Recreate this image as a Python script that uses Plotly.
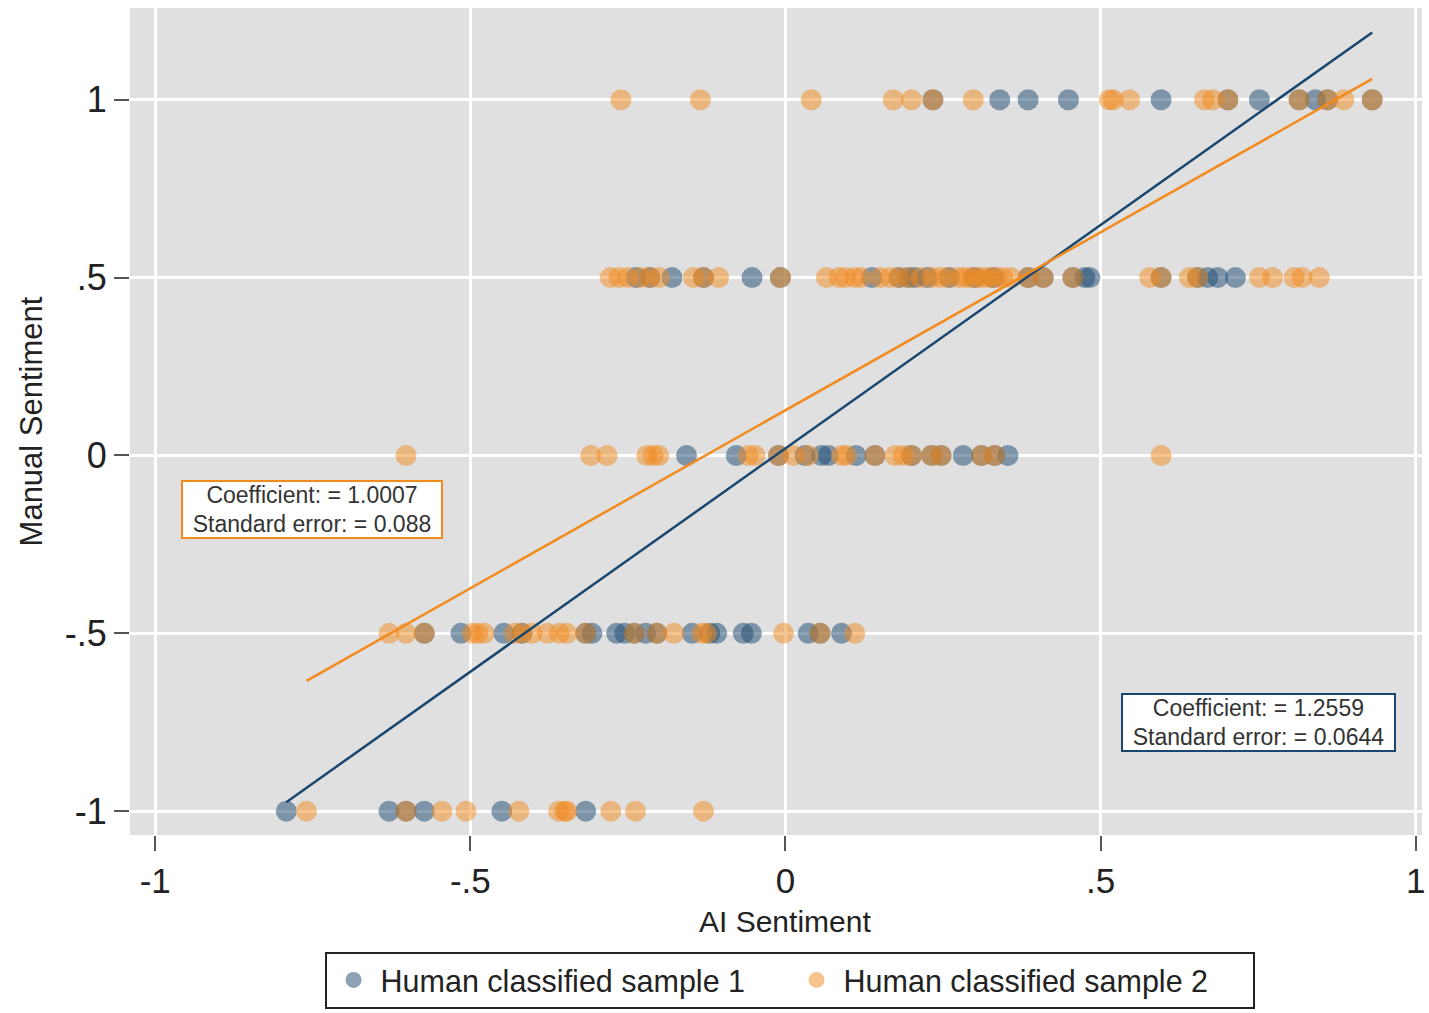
import plotly.graph_objects as go

# AI sentiment scores of the articles, grouped by their manual sentiment level
levels = [1.0, 0.5, 0.0, -0.5, -1.0]

# Human classified sample 1
s1_pos1 = [0.234, 0.340, 0.385, 0.449, 0.596, 0.702, 0.752, 0.815, 0.841, 0.860, 0.931]
s1_pos05 = [-0.237, -0.215, -0.180, -0.130, -0.053, -0.008, 0.137, 0.180, 0.195, 0.205,
            0.225, 0.260, 0.300, 0.330, 0.385, 0.409, 0.456, 0.475, 0.483, 0.596,
            0.654, 0.670, 0.686, 0.714]
s1_zero = [-0.157, -0.078, -0.011, 0.031, 0.057, 0.068, 0.112, 0.142, 0.200, 0.232,
           0.247, 0.282, 0.311, 0.332, 0.353]
s1_neg05 = [-0.573, -0.515, -0.447, -0.418, -0.317, -0.307, -0.268, -0.255, -0.240,
            -0.222, -0.204, -0.148, -0.120, -0.109, -0.067, -0.054, 0.036, 0.055, 0.089]
s1_neg1 = [-0.792, -0.629, -0.602, -0.573, -0.450, -0.317]

# Human classified sample 2
s2_pos1 = [-0.261, -0.135, 0.041, 0.171, 0.200, 0.234, 0.298, 0.514, 0.520, 0.546,
           0.665, 0.678, 0.702, 0.815, 0.860, 0.886, 0.931]
s2_pos05 = [-0.278, -0.264, -0.250, -0.230, -0.215, -0.200, -0.146, -0.130, -0.106,
            -0.008, 0.065, 0.085, 0.095, 0.110, 0.120, 0.150, 0.166, 0.180, 0.195,
            0.215, 0.232, 0.245, 0.258, 0.275, 0.285, 0.295, 0.305, 0.315, 0.325,
            0.335, 0.345, 0.358, 0.385, 0.409, 0.456, 0.578, 0.596, 0.641, 0.654,
            0.752, 0.773, 0.807, 0.820, 0.847]
s2_zero = [-0.602, -0.309, -0.283, -0.220, -0.210, -0.201, -0.059, -0.048, -0.011,
           0.013, 0.036, 0.089, 0.097, 0.142, 0.174, 0.187, 0.200, 0.232, 0.247,
           0.311, 0.332, 0.596]
s2_neg05 = [-0.629, -0.602, -0.573, -0.497, -0.488, -0.478, -0.430, -0.418, -0.402,
            -0.378, -0.359, -0.347, -0.317, -0.240, -0.204, -0.177, -0.133, -0.125,
            -0.003, 0.055, 0.110]
s2_neg1 = [-0.760, -0.602, -0.545, -0.507, -0.423, -0.360, -0.350, -0.347, -0.277,
           -0.238, -0.130]

# Fitted regressions (manual on AI sentiment)
s1_coef, s1_se, s1_const = 1.2559, 0.0644, 0.020
s2_coef, s2_se, s2_const = 1.0007, 0.088, 0.127

tick_vals = [-1, -0.5, 0, 0.5, 1]
tick_text = ["-1", "-.5", "0", ".5", "1"]

NAVY = "#1a476f"
ORANGE = "#f28a1e"
TEXT = "#222222"
FONT = "Liberation Sans, Arial, sans-serif"


def stack(groups):
    xs, ys = [], []
    for lvl, vals in zip(levels, groups):
        xs += vals
        ys += [lvl] * len(vals)
    return xs, ys


s1_x, s1_y = stack([s1_pos1, s1_pos05, s1_zero, s1_neg05, s1_neg1])
s2_x, s2_y = stack([s2_pos1, s2_pos05, s2_zero, s2_neg05, s2_neg1])


def fit_line(xs, const, coef):
    lo, hi = min(xs), max(xs)
    return [lo, hi], [const + coef * lo, const + coef * hi]


fig = go.Figure()
fig.add_trace(go.Scatter(
    x=s1_x, y=s1_y, mode="markers", name="Human classified sample 1",
    marker=dict(size=21, color=NAVY, opacity=0.5, line=dict(width=0)),
))
fig.add_trace(go.Scatter(
    x=s2_x, y=s2_y, mode="markers", name="Human classified sample 2",
    marker=dict(size=21, color=ORANGE, opacity=0.5, line=dict(width=0)),
))
lx, ly = fit_line(s1_x, s1_const, s1_coef)
fig.add_trace(go.Scatter(x=lx, y=ly, mode="lines", showlegend=False,
                         line=dict(color=NAVY, width=2.5), hoverinfo="skip"))
lx, ly = fit_line(s2_x, s2_const, s2_coef)
fig.add_trace(go.Scatter(x=lx, y=ly, mode="lines", showlegend=False,
                         line=dict(color=ORANGE, width=2.5), hoverinfo="skip"))


def stat_box(x, y, coef, se, color, w):
    return dict(
        x=x, y=y, xref="x", yref="y", showarrow=False,
        text=f"Coefficient: = {coef}<br>Standard error: = {se}",
        font=dict(family=FONT, size=23, color="#333333"),
        align="center", bgcolor="white", bordercolor=color, borderwidth=2,
        borderpad=2, width=w, height=51,
    )


fig.update_layout(
    width=1429, height=1013,
    margin=dict(l=130, r=4, t=8, b=175),
    paper_bgcolor="white", plot_bgcolor="#e0e0e0",
    font=dict(family=FONT, color=TEXT),
    xaxis=dict(
        range=[-1.040, 1.010], tickvals=tick_vals, ticktext=tick_text,
        showgrid=True, gridcolor="white", gridwidth=2.5, zeroline=False,
        showline=False, ticks="outside", ticklen=15, tickwidth=2,
        tickcolor="#555555", tickfont=dict(size=35, family=FONT, color=TEXT),
    ),
    yaxis=dict(
        range=[-1.067, 1.258], tickvals=tick_vals, ticktext=tick_text,
        showgrid=True, gridcolor="white", gridwidth=2.5, zeroline=False,
        showline=False, ticks="outside", ticklen=15, tickwidth=2,
        tickcolor="#555555", tickfont=dict(size=36, family=FONT, color=TEXT),
        title=dict(text="Manual Sentiment", font=dict(size=31, family=FONT, color=TEXT),
                   standoff=12),
    ),
    legend=dict(
        orientation="h", x=0.1506, xanchor="left", y=-0.141, yanchor="top",
        bgcolor="white", bordercolor=TEXT, borderwidth=2,
        itemwidth=44, entrywidth=404,
        font=dict(size=30.5, family=FONT, color=TEXT),
    ),
    annotations=[
        # x-axis title, centred under the zero gridline
        dict(text="AI Sentiment", x=0, xref="x", y=-0.104, yref="paper",
             xanchor="center", yanchor="middle", showarrow=False,
             font=dict(size=30, family=FONT, color=TEXT)),
        stat_box(-0.752, -0.151, s2_coef, s2_se, ORANGE, 254),
        stat_box(0.751, -0.751, s1_coef, s1_se, NAVY, 267),
    ],
)

fig.write_html("out.html")
